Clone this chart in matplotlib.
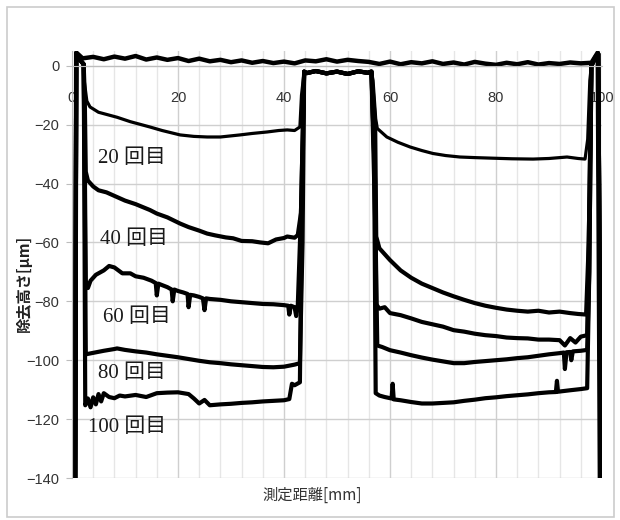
import matplotlib
matplotlib.use("Agg")
import matplotlib.pyplot as plt
from matplotlib.patches import Rectangle
from matplotlib.ticker import MultipleLocator

# unworked surface profile (top line)
top_x = [0.6, 0.8, 2, 4, 6, 8, 10, 12, 14, 16, 18, 20, 22, 24, 26, 28, 30,
         32, 34, 36, 38, 40, 42, 44, 46, 48, 50, 52, 54, 56, 58, 60, 62, 64,
         66, 68, 70, 72, 74, 76, 78, 80, 82, 84, 86, 88, 90, 92, 94, 96, 98,
         99.2, 99.6]
top_y = [-140, 4.5, 2.5, 3.0, 2.2, 3.1, 2.4, 3.3, 2.1, 2.8, 2.0, 2.6, 1.6,
         2.4, 1.5, 2.0, 1.2, 1.8, 1.0, 1.6, 0.9, 1.4, 0.8, 1.8, 1.5, 2.2, 1.4,
         2.0, 1.6, 1.3, 0.6, 1.4, 0.5, 1.2, 0.8, 1.5, 0.6, 1.1, 0.4, 1.3, 0.7,
         0.3, 1.0, 0.5, 1.2, 0.4, 0.9, 0.6, 1.1, 0.8, 1.0, 4.5, -140]

# shared pieces of every groove profile
lead_x = [0.6, 0.8, 1.5, 2.2]
lead_y = [-140, 4, 2, 0.5]
center_x = [43.8, 44.3, 46, 48, 50, 52, 54, 55.8, 56.5]
center_y = [-2, -2.5, -1.8, -2.6, -2.0, -2.8, -1.9, -2.4, -2]
tail_x = [98.0, 98.8, 99.3, 99.8]
tail_y = [0, 3, 4, -140]

# groove profiles after n passes: left groove / right groove
passes = ["20", "40", "60", "80", "100"]

left_x = {
    "20": [2.3, 2.8, 3.4, 5, 8.5, 11, 14.7, 17, 20.4, 23, 25.5, 28, 31.7, 34,
           36.8, 39, 40.6, 42, 43, 43.3],
    "40": [2.4, 2.6, 3, 4, 5, 6.5, 8.5, 10, 12, 14.7, 16, 18, 20.4, 22, 24,
           25.5, 27, 29, 30.4, 32, 34, 35.5, 37, 38.5, 40, 40.6, 42, 42.6, 43.2],
    "60": [2.4, 2.6, 3, 3.5, 4.5, 6, 7, 8, 9.5, 11, 12, 13.5, 15, 15.8, 16,
           16.3, 17, 18, 18.8, 19, 19.3, 20, 21, 21.8, 22, 22.3, 23, 24, 24.7,
           25, 25.3, 26, 28, 30, 32, 34, 36, 38, 40, 40.8, 41, 41.3, 42, 42.3,
           42.6, 43.2],
    "80": [2.4, 2.6, 4, 6, 8, 8.5, 10, 12, 14, 16, 18, 20, 22, 24, 26, 28, 30,
           32, 34, 36, 38, 40, 42, 43, 43.5],
    "100": [2.3, 2.5, 3, 3.5, 4, 4.5, 5, 5.5, 6, 7, 8, 9, 10, 12, 14, 16, 18,
            20, 22, 23, 24, 25, 26, 28, 30, 32, 34, 36, 38, 40, 41, 41.5, 42,
            43, 43.3],
}
left_y = {
    "20": [-5, -12, -14, -15.8, -17.5, -19, -20.8, -22, -23.5, -24, -24.2,
           -24.2, -23.5, -23, -22.5, -22, -21.8, -22, -20.8, -10],
    "40": [-10, -36, -39, -41, -42.3, -43, -44.6, -45.8, -47, -49, -50.2,
           -51.5, -53.6, -54.8, -56, -57, -57.6, -58.3, -58.6, -59.5, -59.6,
           -60, -60.3, -59, -58.5, -58, -58.4, -57.5, -50],
    "60": [-30, -73, -75.5, -73, -71, -69.5, -68, -68.5, -70.5, -70.5, -71.5,
           -72, -73, -73.8, -78, -74, -74.5, -75.2, -76, -80, -76, -76.5, -77,
           -77.5, -82, -77.8, -78, -78.5, -79, -83, -79, -79.2, -79.5, -80,
           -80.3, -80.6, -80.9, -81, -81.3, -81.5, -84.5, -81.5, -82, -85,
           -81.5, -50],
    "80": [-40, -98, -97.5, -96.8, -96.2, -96, -96.5, -97, -97.4, -98, -98.5,
           -99, -99.6, -100.2, -100.7, -101, -101.4, -101.7, -102, -102.3,
           -102.4, -102.2, -101.5, -101, -60],
    "100": [-30, -115.3, -113, -116, -112.6, -115, -111.5, -114, -111.2,
            -112.5, -112.9, -112, -112.3, -111.8, -112.5, -111.2, -111,
            -110.9, -111.5, -113, -114.7, -113.5, -115.3, -115, -114.8,
            -114.5, -114.3, -114, -113.8, -113.6, -113.2, -108, -108.5,
            -107.5, -60],
}
right_x = {
    "20": [56.8, 57.3, 57.6, 59.4, 61.5, 63.8, 66, 68.1, 70.5, 73.2, 76, 79.4,
           83, 87, 90, 93.4, 95.5, 96.8, 97.3, 97.7],
    "40": [57.2, 57.4, 58, 60, 62, 64, 66, 68, 70, 72, 74, 76, 78, 80, 82, 84,
           86, 88, 90, 92, 94, 95.5, 97, 97.5],
    "60": [57.2, 57.4, 58, 59, 60, 62, 64, 66, 68, 70, 72, 74, 76, 78, 80, 82,
           84, 86, 88, 90, 92, 93, 94, 95, 96, 97.2, 97.5],
    "80": [57.3, 57.6, 58.5, 60, 62, 64, 66, 68, 70, 72, 74, 76, 78, 80, 82,
           84, 86, 88, 90, 92, 92.8, 93, 93.3, 94, 94.2, 94.5, 96, 97.2, 97.6],
    "100": [57, 57.3, 58, 59, 60.3, 60.5, 60.7, 62, 64, 66, 68, 70, 72, 74, 76,
            78, 80, 82, 84, 86, 88, 90, 91.3, 91.5, 91.7, 94, 96, 97.2, 97.6],
}
right_y = {
    "20": [-5, -18, -21.3, -24.2, -26, -27.6, -28.8, -29.8, -30.5, -31, -31.2,
           -31.4, -31.6, -31.7, -31.5, -31, -31.5, -31.7, -25, -5],
    "40": [-20, -58, -62, -66, -69.5, -72, -74, -75.5, -77, -78.3, -79.5,
           -80.6, -81.5, -82.2, -82.8, -83.2, -83.5, -83.2, -83.8, -83.5, -84,
           -84.3, -84.5, -60],
    "60": [-40, -81, -82.5, -82, -84, -84.7, -85.8, -87, -87.8, -88.6, -89.8,
           -90.3, -91, -91.5, -91.8, -92.3, -92.5, -92.6, -93, -93, -93.2, -95,
           -92.5, -94, -92, -91.5, -60],
    "80": [-60, -95, -95.5, -96.6, -97.4, -98.3, -99.1, -99.8, -100.4, -101,
           -101, -100.6, -100.3, -100, -99.7, -99.3, -99, -98.5, -98, -97.6,
           -97.4, -103, -97.3, -97.2, -100, -97, -96.8, -96.5, -70],
    "100": [-30, -111.2, -112, -112.5, -113, -108, -113.3, -113.6, -114.2,
            -114.7, -114.7, -114.5, -114.3, -113.8, -113.4, -112.9, -112.6,
            -112.2, -111.9, -111.6, -111.2, -110.9, -110.8, -107, -110.7,
            -110.2, -109.8, -109.5, -70],
}

# label positions (data coords)
label_x = [4.9, 5.3, 5.9, 4.9, 3.0]
label_y = [-31.4, -59, -85.4, -104.4, -123]

W, H = 620, 520
fig = plt.figure(figsize=(W / 100, H / 100), dpi=100)
ax = fig.add_axes([72 / W, 1 - 478 / H, 530 / W, 427 / H])

ax.plot(top_x, top_y, color="black", lw=3.2)
for p in passes:
    xs = lead_x + left_x[p] + center_x + right_x[p] + tail_x
    ys = lead_y + left_y[p] + center_y + right_y[p] + tail_y
    ax.plot(xs, ys, color="black", lw=2.3 if p == "20" else 3.0)

ax.set_xlim(0, 100)
ax.set_ylim(-140, 5)
ax.set_xticks(range(0, 101, 20))
ax.xaxis.set_minor_locator(MultipleLocator(4))
ax.set_yticks(range(-140, 1, 20))
ax.set_axisbelow(True)
ax.grid(which="major", color="#cfcfcf", lw=1.0)
ax.grid(which="minor", axis="x", color="#e6e6e6", lw=1.0)

for s in ["top", "right"]:
    ax.spines[s].set_visible(False)
ax.spines["bottom"].set_position(("data", 0))
ax.spines["bottom"].set_color("#bdbdbd")
ax.spines["left"].set_color("#bdbdbd")

tick_font = ["Liberation Sans Narrow", "Liberation Sans"]
ax.tick_params(axis="x", which="both", length=0, pad=18, labelsize=10.5,
               labelcolor="#333333")
ax.tick_params(axis="y", length=4, color="#bdbdbd", pad=5, labelsize=10.5,
               labelcolor="#333333")
for lab in ax.get_xticklabels() + ax.get_yticklabels():
    lab.set_family(tick_font)

lab_font = ["Liberation Serif", "Noto Sans CJK JP"]
for p, lx, ly in zip(passes, label_x, label_y):
    ax.text(lx, ly, p + " 回目", fontsize=15, family=lab_font, va="center",
            ha="left", color="#1a1a1a")

jp = ["Noto Sans CJK JP", "DejaVu Sans"]
fig.text(312 / W, 1 - 495 / H, "測定距離[mm]", family=jp, fontsize=11,
         ha="center", va="center", color="#333333")
fig.text(24 / W, 1 - 283 / H, "除去高さ[μm]", family=jp, fontsize=11,
         rotation=90, ha="center", va="center", color="#222222",
         fontweight="bold")

fig.patches.append(Rectangle((7 / W, 3 / H), 607 / W, 510 / H,
                             transform=fig.transFigure, fill=False,
                             edgecolor="#cccccc", lw=1.2))

fig.savefig("out.png", dpi=100)
